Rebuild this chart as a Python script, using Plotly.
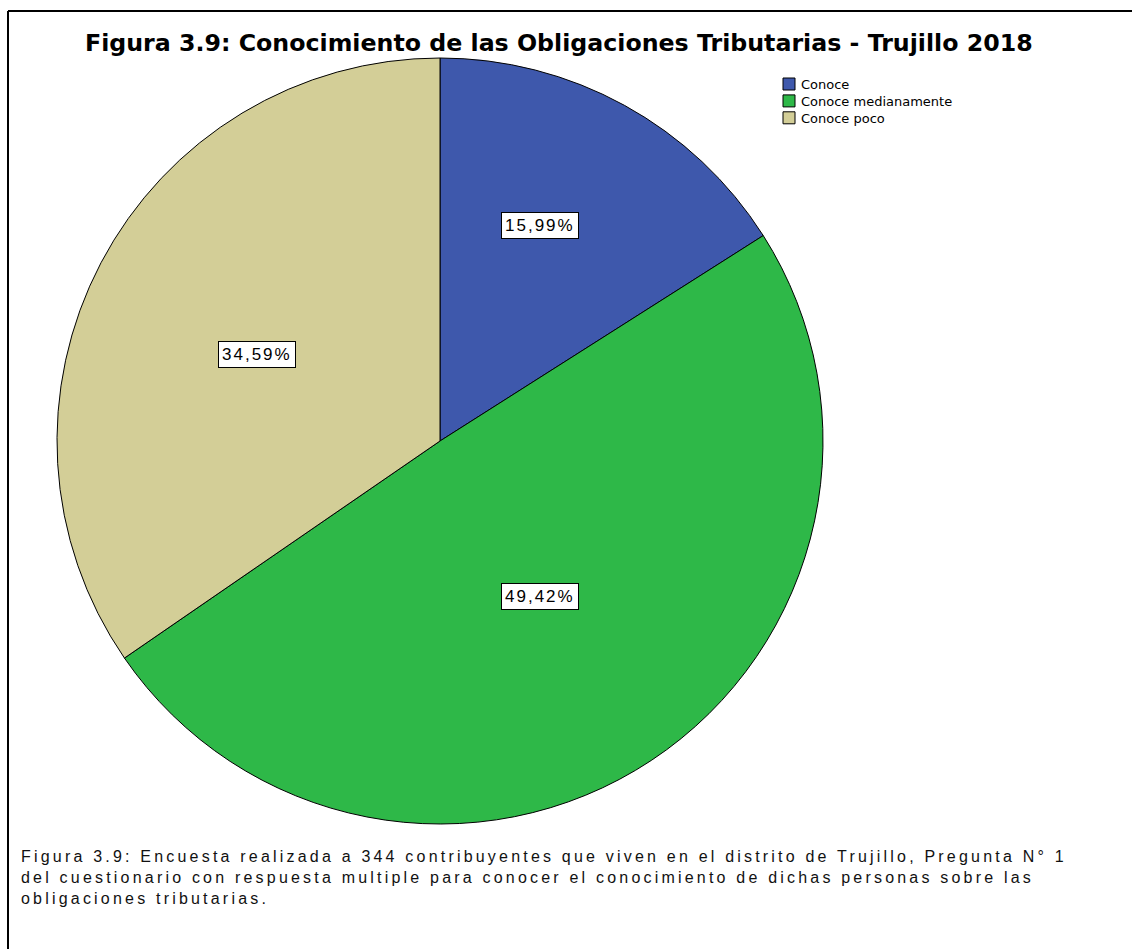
import math
import plotly.graph_objects as go

# Survey answers and their shares (percent)
categorias = ["Conoce", "Conoce medianamente", "Conoce poco"]
porcentajes = [15.99, 49.42, 34.59]
etiquetas = ["15,99%", "49,42%", "34,59%"]
colores = ["#3E58AC", "#2EB848", "#D3CE97"]

titulo = "Figura 3.9: Conocimiento de las Obligaciones Tributarias - Trujillo 2018"
nota = [
    "Figura 3.9: Encuesta realizada a 344 contribuyentes que viven en el distrito de Trujillo, Pregunta N° 1",
    "del cuestionario con respuesta multiple para conocer el conocimiento de dichas personas sobre las",
    "obligaciones tributarias.",
]

W, H = 1132, 949
SANS = "Liberation Sans, Arial, sans-serif"
WIDE = "DejaVu Sans, Verdana, sans-serif"

# pie placement in pixels
cx, cy, R = 440, 441, 383

def px(x):
    return x / W

def py(y):
    return 1 - y / H

def espaciado(txt, sp):
    return f'<span style="letter-spacing:{sp}px">{txt}</span>'

fig = go.Figure(
    go.Pie(
        labels=categorias,
        values=porcentajes,
        marker=dict(colors=colores, line=dict(color="black", width=1)),
        sort=False,
        direction="clockwise",
        rotation=0,
        textinfo="none",
        hoverinfo="label+percent",
        showlegend=False,
        domain=dict(x=[px(cx - R), px(cx + R)], y=[py(cy + R), py(cy - R)]),
    )
)

# value boxes placed near each slice's bisector (radial fraction, angular nudge in degrees)
radial = [0.62, 0.483, 0.528]
desfase = [-4.0, 0.8, -2.5]
anns = []
total = sum(porcentajes)
acum = 0.0
for val, txt, fr, dg in zip(porcentajes, etiquetas, radial, desfase):
    mid = (acum + val / 2) / total * 2 * math.pi + math.radians(dg)
    acum += val
    x = cx + fr * R * math.sin(mid)
    y = cy - fr * R * math.cos(mid)
    anns.append(dict(
        x=px(x), y=py(y), xref="paper", yref="paper", text=espaciado(txt, 2.0),
        showarrow=False, xanchor="center", yanchor="middle",
        font=dict(family=SANS, size=17, color="black"),
        bgcolor="white", bordercolor="black", borderwidth=1, borderpad=3,
    ))

# title
anns.append(dict(
    x=px(559), y=py(43), xref="paper", yref="paper", text=f"<b>{titulo}</b>",
    showarrow=False, xanchor="center", yanchor="middle",
    font=dict(family=WIDE, size=23.7, color="black"),
))

# caption below the pie
anns.append(dict(
    x=px(19), y=py(846), xref="paper", yref="paper",
    text="<br>".join(espaciado(linea, 3.2) for linea in nota),
    showarrow=False, xanchor="left", yanchor="top", align="left",
    font=dict(family=SANS, size=16, color="#111111"),
))

# legend: swatches plus one multi-line label block
leg_x, leg_y0, leg_dy = 783, 84, 16.9
shapes = []
for i, col in enumerate(colores):
    yc = leg_y0 + i * leg_dy
    shapes.append(dict(
        type="rect", xref="paper", yref="paper",
        x0=px(leg_x), x1=px(leg_x + 12), y0=py(yc + 6), y1=py(yc - 6),
        fillcolor=col, line=dict(color="black", width=1),
    ))
anns.append(dict(
    x=px(leg_x + 16), y=py(leg_y0 - 9), xref="paper", yref="paper",
    text="<br>".join(categorias), showarrow=False,
    xanchor="left", yanchor="top", align="left",
    font=dict(family=WIDE, size=13, color="black"),
))

# frame around the figure
shapes += [
    dict(type="line", xref="paper", yref="paper", x0=px(8), x1=px(8), y0=0, y1=py(11),
         line=dict(color="black", width=2)),
    dict(type="line", xref="paper", yref="paper", x0=px(8), x1=1, y0=py(11), y1=py(11),
         line=dict(color="black", width=2)),
]

fig.update_layout(
    width=W, height=H,
    margin=dict(l=0, r=0, t=0, b=0),
    paper_bgcolor="white", plot_bgcolor="white",
    annotations=anns, shapes=shapes,
    showlegend=False,
)

fig.write_html("out.html")
